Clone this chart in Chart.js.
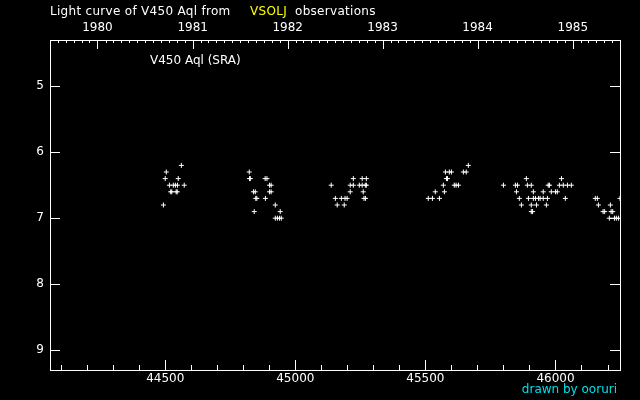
<!DOCTYPE html>
<html>
<head>
<meta charset="utf-8">
<script src="https://cdn.jsdelivr.net/npm/chart.js@4/dist/chart.umd.min.js"></script>
<style>
  html, body { margin: 0; padding: 0; background: #000; }
  canvas { display: block; }
</style>
</head>
<body>
<canvas id="c" width="640" height="400"></canvas>
<script>
// ---- data (JD - 2400000, visual magnitude) ----
const jd = [
  44493, 44500, 44504, 44516, 44521, 44525, 44531, 44539, 44542, 44546, 44547, 44550, 44562, 44573,
  44823, 44824, 44827, 44839, 44842, 44846, 44848, 44852, 44884, 44885, 44891, 44901, 44901, 44907, 44907,
  44923, 44923, 44931, 44939, 44942, 44946,
  45138, 45154, 45161, 45177, 45188, 45191, 45199, 45211, 45211, 45223, 45223, 45246, 45257, 45257,
  45261, 45264, 45270, 45269, 45273, 45273,
  45511, 45527, 45538, 45554, 45569, 45573, 45577, 45581, 45585, 45592, 45600, 45611, 45618, 45627,
  45646, 45657, 45665,
  45800, 45846, 45850, 45854, 45861, 45869, 45888, 45892, 45896, 45907, 45907, 45907, 45912, 45915,
  45915, 45923, 45927, 45935, 45941, 45953, 45953, 45965, 45969, 45972, 45977, 45984, 46000, 46007,
  46015, 46023, 46030, 46038, 46046, 46061,
  46153, 46161, 46165, 46183, 46189, 46207, 46211, 46214, 46220, 46227, 46234, 46242, 46248
];
const mag = [
  6.8, 6.4, 6.3, 6.5, 6.6, 6.6, 6.5, 6.5, 6.6, 6.6, 6.5, 6.4, 6.2, 6.5,
  6.3, 6.4, 6.4, 6.6, 6.9, 6.6, 6.7, 6.7, 6.4, 6.7, 6.4, 6.5, 6.6, 6.5, 6.6,
  6.8, 7.0, 7.0, 7.0, 6.9, 7.0,
  6.5, 6.7, 6.8, 6.7, 6.8, 6.7, 6.7, 6.5, 6.6, 6.4, 6.5, 6.5, 6.4, 6.5,
  6.6, 6.7, 6.7, 6.5, 6.5, 6.4,
  6.7, 6.7, 6.6, 6.7, 6.5, 6.6, 6.3, 6.4, 6.4, 6.3, 6.3, 6.5, 6.5, 6.5,
  6.3, 6.3, 6.2,
  6.5, 6.5, 6.6, 6.5, 6.7, 6.8, 6.4, 6.5, 6.7, 6.5, 6.8, 6.9, 6.9, 6.6,
  6.7, 6.7, 6.8, 6.7, 6.7, 6.6, 6.7, 6.8, 6.7, 6.5, 6.5, 6.6, 6.6, 6.6,
  6.5, 6.4, 6.5, 6.7, 6.5, 6.5,
  6.7, 6.7, 6.8, 6.9, 6.9, 7.0, 6.8, 6.9, 6.9, 7.0, 7.0, 7.0, 6.7
];
const xTicks = [44500, 45000, 45500, 46000];
const yTicks = [5, 6, 7, 8, 9];
const yearLabels = [1980, 1981, 1982, 1983, 1984, 1985];
const titleParts = ["Light curve of V450 Aql from", "VSOLJ", "observations"];
const starLabel = "V450 Aql (SRA)";
const credit = "drawn by ooruri";

// ---- helpers ----
const FONT = "DejaVu Sans";
function jdOfDate(y, m) { return Date.UTC(y, m, 1) / 86400000 + 2440587.5 - 2400000; }
const X_MIN = 44057, X_MAX = 46248;
const Y_MIN = 4.3, Y_MAX = 9.3;

const points = jd.map((v, i) => ({ x: v, y: mag[i] }));

const framePlugin = {
  id: 'frame',
  afterDraw(chart) {
    const ctx = chart.ctx;
    const a = chart.chartArea;
    const xs = chart.scales.x, ys = chart.scales.y;
    ctx.save();
    ctx.strokeStyle = '#fff';
    ctx.lineWidth = 1;
    ctx.strokeRect(a.left + 0.5, a.top + 0.5, a.right - a.left, a.bottom - a.top);
    ctx.beginPath();
    // bottom ticks
    for (let v = 44100; v <= X_MAX; v += 100) {
      const px = Math.round(xs.getPixelForValue(v)) + 0.5;
      const len = (v % 500 === 0) ? 10 : 5;
      ctx.moveTo(px, a.bottom); ctx.lineTo(px, a.bottom - len);
    }
    // top ticks (monthly, year major)
    for (let y = 1979; y <= 1986; y++) {
      for (let m = 0; m < 12; m++) {
        const v = jdOfDate(y, m);
        if (v <= X_MIN || v >= X_MAX) continue;
        const px = Math.round(xs.getPixelForValue(v)) + 0.5;
        const len = (m === 0) ? 9 : 3;
        ctx.moveTo(px, a.top); ctx.lineTo(px, a.top + len);
      }
    }
    // left & right ticks
    yTicks.forEach(v => {
      const py = Math.round(ys.getPixelForValue(v)) + 0.5;
      ctx.moveTo(a.left, py); ctx.lineTo(a.left + 10, py);
      ctx.moveTo(a.right, py); ctx.lineTo(a.right - 10, py);
    });
    ctx.stroke();

    // texts
    ctx.font = '12px "' + FONT + '"';
    ctx.textBaseline = 'middle';
    ctx.textAlign = 'left';
    ctx.fillStyle = '#fff';
    if ('letterSpacing' in ctx) ctx.letterSpacing = '0.3px';
    ctx.fillText(titleParts[0], 50, 12);
    ctx.fillStyle = '#ffff00';
    ctx.fillText(titleParts[1], 250, 12);
    ctx.fillStyle = '#fff';
    ctx.fillText(titleParts[2], 295, 12);
    if ('letterSpacing' in ctx) ctx.letterSpacing = '0px';
    ctx.fillText(starLabel, 150, 61);
    ctx.fillStyle = '#00e0e8';
    ctx.textAlign = 'right';
    ctx.fillText(credit, 617, 390);
    ctx.restore();
  }
};

new Chart(document.getElementById('c'), {
  type: 'scatter',
  data: {
    datasets: [{
      data: points,
      pointStyle: 'cross',
      pointRadius: 2.5,
      pointBorderWidth: 1,
      borderColor: '#fff',
      backgroundColor: '#fff',
      showLine: false
    }]
  },
  options: {
    responsive: false,
    animation: false,
    events: [],
    layout: { padding: { left: 0, right: 20, top: 0, bottom: 0 } },
    plugins: { legend: { display: false }, tooltip: { enabled: false }, title: { display: false } },
    scales: {
      x: {
        type: 'linear', position: 'bottom', min: X_MIN, max: X_MAX,
        afterBuildTicks: s => { s.ticks = xTicks.map(v => ({ value: v })); },
        afterFit: s => { s.height = 30; },
        grid: { display: false, drawTicks: false },
        border: { display: false },
        ticks: { color: '#fff', font: { family: FONT, size: 12 }, padding: 2, maxRotation: 0,
                 callback: v => String(v) }
      },
      x2: {
        type: 'linear', position: 'top', min: X_MIN, max: X_MAX,
        afterBuildTicks: s => { s.ticks = yearLabels.map(y => ({ value: jdOfDate(y, 0) })); },
        afterFit: s => { s.height = 40; },
        grid: { display: false, drawTicks: false },
        border: { display: false },
        ticks: { color: '#fff', font: { family: FONT, size: 12 }, padding: 5, maxRotation: 0,
                 callback: (v, i) => String(yearLabels[i]) }
      },
      y: {
        type: 'linear', position: 'left', reverse: true, min: Y_MIN, max: Y_MAX,
        afterBuildTicks: s => { s.ticks = yTicks.map(v => ({ value: v })); },
        afterFit: s => { s.width = 50; },
        grid: { display: false, drawTicks: false },
        border: { display: false },
        ticks: { color: '#fff', font: { family: FONT, size: 12 }, padding: 6,
                 callback: v => String(v) }
      }
    }
  },
  plugins: [framePlugin]
});
</script>
</body>
</html>
